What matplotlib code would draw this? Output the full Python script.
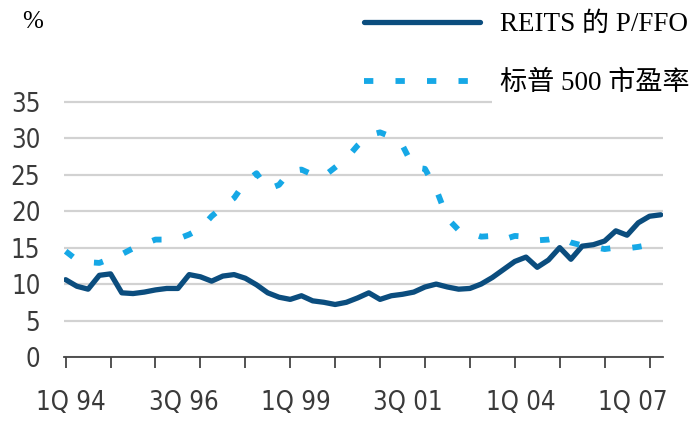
import matplotlib

matplotlib.use('Agg')
import matplotlib.pyplot as plt
import numpy as np

# quarterly values, 1Q94 .. 2Q07
reits_pffo = [10.6, 9.7, 9.3, 11.2, 11.4, 8.8, 8.7, 8.9, 9.2, 9.4,
              9.4, 11.3, 11.0, 10.4, 11.1, 11.3, 10.8, 9.9, 8.8, 8.2,
              7.9, 8.4, 7.7, 7.5, 7.2, 7.5, 8.1, 8.8, 7.9, 8.4,
              8.6, 8.9, 9.6, 10.0, 9.6, 9.3, 9.4, 10.0, 10.9, 12.0,
              13.1, 13.7, 12.3, 13.3, 15.0, 13.4, 15.2, 15.4, 15.9, 17.3,
              16.7, 18.4, 19.3, 19.5]
sp500_pe = [14.5, 13.3, 13.0, 12.9, 13.5, 14.1, 14.9, 15.5, 16.1, 16.1,
            16.2, 16.8, 17.6, 19.3, 20.6, 21.8, 24.0, 25.2, 23.0, 23.6,
            25.5, 25.7, 25.0, 24.8, 26.0, 27.2, 29.0, 30.4, 30.8, 30.2,
            29.0, 26.0, 25.8, 23.0, 19.0, 17.4, 17.0, 16.5, 16.6, 16.1,
            16.6, 16.5, 16.0, 16.1, 16.4, 15.7, 15.3, 15.1, 14.8, 15.0,
            14.9, 15.1, 15.4, 15.5]
tick_labels = ['1Q 94', '3Q 96', '1Q 99', '3Q 01', '1Q 04', '1Q 07']
label_quarters = [0, 10, 20, 30, 40, 50]
series_names = ['REITS 的 P/FFO', '标普 500 市盈率']

DARK_BLUE = '#0b4d7e'
LIGHT_BLUE = '#16a8e6'
GRID = '#d2d2d2'
TEXT = '#3a3a3a'
SERIF = ['Liberation Serif', 'Noto Sans CJK SC']

fig = plt.figure(figsize=(6.97, 4.21), dpi=100)
ax = fig.add_axes([0.0918, 0.152, 0.8594, 0.615])

q = np.arange(len(reits_pffo))
ax.plot(q, reits_pffo, color=DARK_BLUE, lw=3.8, solid_capstyle='round',
        solid_joinstyle='round', zorder=3, label=series_names[0])
ax.plot(q, sp500_pe, color=LIGHT_BLUE, lw=4.2, dashes=(1.6, 3.8),
        dash_capstyle='butt', zorder=4, label=series_names[1])

ax.set_xlim(-0.15, 53.2)
ax.set_ylim(0, 35.5)
ax.set_yticks(np.arange(0, 36, 5))
ax.yaxis.grid(True, color=GRID, lw=1.6)
ax.set_axisbelow(True)
for side in ['left', 'right', 'top']:
    ax.spines[side].set_visible(False)
ax.spines['bottom'].set_color('#444444')
ax.spines['bottom'].set_linewidth(1.3)
ax.spines['bottom'].set_zorder(5)

ax.set_xticks(np.array(label_quarters) + 0.5)
ax.set_xticklabels(tick_labels)
ax.set_xticks(np.arange(0, 53, 4), minor=True)
ax.tick_params(axis='x', which='major', length=0, pad=24)
ax.tick_params(axis='x', which='minor', length=8, width=1.3, color='#444444')
ax.tick_params(axis='y', length=0, pad=17)
for lab in ax.get_xticklabels() + ax.get_yticklabels():
    lab.set_fontfamily('DejaVu Sans')
    lab.set_fontstretch('condensed')
    lab.set_fontsize(18.5)
    lab.set_color(TEXT)

leg = ax.legend(loc='upper left', bbox_to_anchor=(0.507, 0.997), bbox_transform=fig.transFigure,
                frameon=False, handlelength=4.28, handletextpad=0.74,
                labelspacing=1.25, borderaxespad=0,
                prop={'family': SERIF, 'size': 19.5})
for txt in leg.get_texts():
    txt.set_bbox(dict(facecolor='white', edgecolor='none', pad=6))
leg.set_zorder(10)

fig.text(0.032, 0.948, '%', family=SERIF, fontsize=18, ha='left', va='center')

fig.savefig('out.png', dpi=100)
